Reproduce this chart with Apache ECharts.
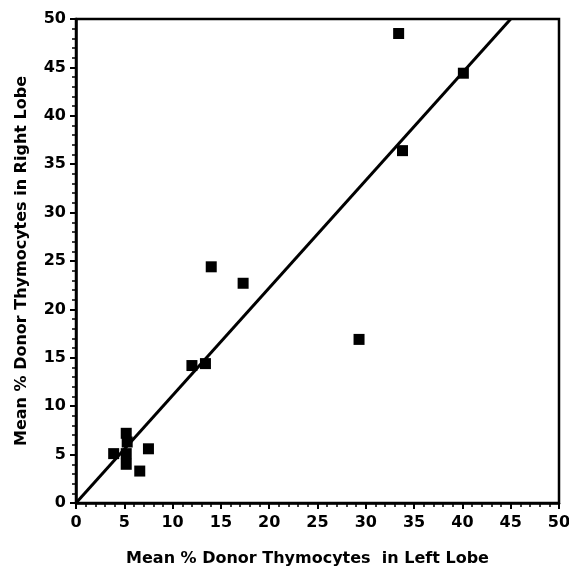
<!DOCTYPE html>
<html><head><meta charset="utf-8">
<script src="https://cdn.jsdelivr.net/npm/echarts@6/dist/echarts.min.js"></script>
<style>html,body{margin:0;padding:0;background:#fff}#c{width:569px;height:569px}</style>
</head><body><div id="c"></div>
<script>
const leftLobe  = [3.9, 5.2, 5.3, 5.2, 5.2, 6.6, 7.5, 12.0, 13.4, 14.0, 17.3, 29.3, 33.4, 33.8, 40.1];
const rightLobe = [5.1, 7.2, 6.3, 5.1, 4.0, 3.3, 5.6, 14.2, 14.4, 24.4, 22.7, 16.9, 48.5, 36.4, 44.4];
const fitLine = [[0, 0], [45, 50]];
const xTitle = 'Mean % Donor Thymocytes  in Left Lobe';
const yTitle = 'Mean % Donor Thymocytes in Right Lobe';

const pts = leftLobe.map((x, i) => [x, rightLobe[i]]);
const chart = echarts.init(document.getElementById('c'));
const FONT = 'DejaVu Sans';
const axisCommon = {
  type: 'value', min: 0, max: 50, interval: 5,
  axisLine: { show: true, lineStyle: { color: '#000', width: 2.5 } },
  axisTick: { show: true, inside: false, length: 6, lineStyle: { color: '#000', width: 2 } },
  minorTick: { show: true, splitNumber: 5, length: 4, lineStyle: { color: '#000', width: 1.5 } },
  splitLine: { show: false },
  nameLocation: 'middle'
};
const labelStyle = { color: '#000', fontFamily: FONT, fontWeight: 'bold', fontSize: 16 };
const nameStyle = { color: '#000', fontFamily: FONT, fontWeight: 'bold', fontSize: 16 };
chart.setOption({
  animation: false,
  backgroundColor: '#fff',
  grid: { left: 76, right: 10, top: 19, bottom: 66, outerBoundsMode: 'none', show: true, borderColor: '#000', borderWidth: 2.5, backgroundColor: 'transparent' },
  xAxis: Object.assign({}, axisCommon, { name: xTitle, nameGap: 48,
    nameTextStyle: Object.assign({}, nameStyle, { padding: [0, 20, 0, 0] }),
    axisLabel: Object.assign({}, labelStyle, { margin: 12 }) }),
  yAxis: Object.assign({}, axisCommon, { name: yTitle, nameGap: 46,
    nameTextStyle: nameStyle,
    axisLabel: Object.assign({}, labelStyle, { margin: 10 }) }),
  series: [
    { type: 'line', data: fitLine, symbol: 'none', lineStyle: { color: '#000', width: 3 }, z: 2 },
    { type: 'scatter', data: pts, symbol: 'rect', symbolSize: 11, itemStyle: { color: '#000', opacity: 1 }, z: 3 }
  ]
});
</script></body></html>
